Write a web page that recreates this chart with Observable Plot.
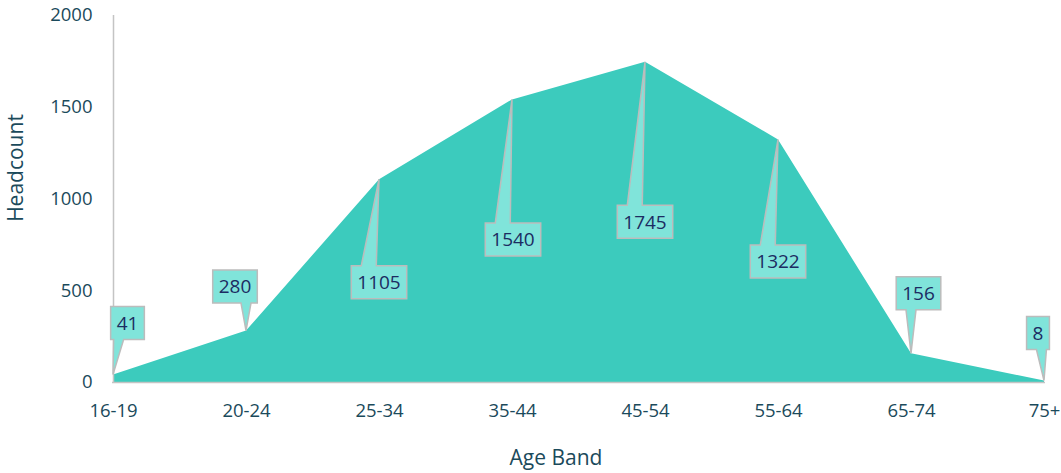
<!DOCTYPE html>
<html>
<head>
<meta charset="utf-8">
<script src="https://cdn.jsdelivr.net/npm/d3@7"></script>
<script src="https://cdn.jsdelivr.net/npm/@observablehq/plot@0.6"></script>
<style>
  html, body { margin: 0; padding: 0; background: #ffffff; }
  #chart svg { display: block; }
</style>
</head>
<body>
<div id="chart"></div>
<script>
// ---- data ----
const ages = ["16-19", "20-24", "25-34", "35-44", "45-54", "55-64", "65-74", "75+"];
const headcount = [41, 280, 1105, 1540, 1745, 1322, 156, 8];
const yTicks = [0, 500, 1000, 1500, 2000];

// ---- callout layout (pixel offsets of label box centre from its point) ----
const calloutDx = [14.5, -11, 0, 1, 0, 0, 7.5, -6];
const calloutDy = [-51.5, -44, 103, 140, 160, 122, -60, -47.5];

const rows = ages.map((a, i) => ({age: a, count: headcount[i], i}));

const textColor = "#1b4a5b";
const labelColor = "#1c2c62";
const areaColor = "#3ccbbd";
const boxFill = "#80e4da";
const boxStroke = "#bcbcbc";
const axisGrey = "#c4c4c4";

const measureCtx = document.createElement("canvas").getContext("2d");
measureCtx.font = "19px 'Open Sans'";

function callouts(index, scales) {
  const ns = "http://www.w3.org/2000/svg";
  const g = document.createElementNS(ns, "g");
  rows.forEach((d, i) => {
    const tx = scales.x(d.age);
    const ty = scales.y(d.count);
    const label = String(d.count);
    const w = measureCtx.measureText(label).width + 12;
    const h = 33;
    const cx = tx + calloutDx[i];
    const cy = ty + calloutDy[i];
    const L = cx - w / 2, R = cx + w / 2, T = cy - h / 2, B = cy + h / 2;
    let p;
    if (cy > ty) {
      const b1 = L + 10, b2 = L + 25 > R - 4 ? R - 4 : L + 25;
      p = `M${L},${T}L${b1},${T}L${tx},${ty}L${b2},${T}L${R},${T}L${R},${B}L${L},${B}Z`;
    } else {
      const c = Math.max(L + 8, Math.min(R - 8, tx));
      const b1 = c - 5, b2 = c + 5;
      p = `M${L},${T}L${R},${T}L${R},${B}L${b2},${B}L${tx},${ty}L${b1},${B}L${L},${B}Z`;
    }
    const path = document.createElementNS(ns, "path");
    path.setAttribute("d", p);
    path.setAttribute("fill", boxFill);
    path.setAttribute("stroke", boxStroke);
    path.setAttribute("stroke-width", "1.5");
    g.appendChild(path);
    const t = document.createElementNS(ns, "text");
    t.setAttribute("x", cx);
    t.setAttribute("y", cy);
    t.setAttribute("dy", "0.36em");
    t.setAttribute("text-anchor", "middle");
    t.setAttribute("fill", labelColor);
    t.setAttribute("font-size", "19px");
    t.setAttribute("font-family", "'Open Sans', sans-serif");
    t.textContent = label;
    g.appendChild(t);
  });
  return g;
}

const plot = Plot.plot({
  width: 1061,
  height: 473,
  marginLeft: 112,
  marginRight: 16,
  marginTop: 15,
  marginBottom: 91,
  style: {fontFamily: "'Open Sans', sans-serif", fontSize: "18.5px", color: textColor, background: "#ffffff"},
  x: {type: "point", domain: ages, padding: 0, label: null, tickSize: 0, tickPadding: 21},
  y: {domain: [0, 2000], ticks: yTicks, tickFormat: "d", label: null, tickSize: 0, tickPadding: 20},
  marks: [
    Plot.areaY(rows, {x: "age", y: "count", fill: areaColor}),
    Plot.ruleX([ages[0]], {stroke: axisGrey, strokeWidth: 1.5}),
    Plot.ruleY([0], {stroke: axisGrey, strokeWidth: 1.5}),
    callouts
  ]
});

const svg = d3.select(plot);
svg.append("text")
  .attr("x", 556).attr("y", 465)
  .attr("text-anchor", "middle")
  .attr("fill", textColor)
  .attr("font-size", "21px")
  .attr("font-family", "'Open Sans', sans-serif")
  .text("Age Band");
svg.append("text")
  .attr("transform", "translate(23,168) rotate(-90)")
  .attr("text-anchor", "middle")
  .attr("fill", textColor)
  .attr("font-size", "21px")
  .attr("font-family", "'Open Sans', sans-serif")
  .text("Headcount");

document.getElementById("chart").appendChild(plot);
</script>
</body>
</html>
